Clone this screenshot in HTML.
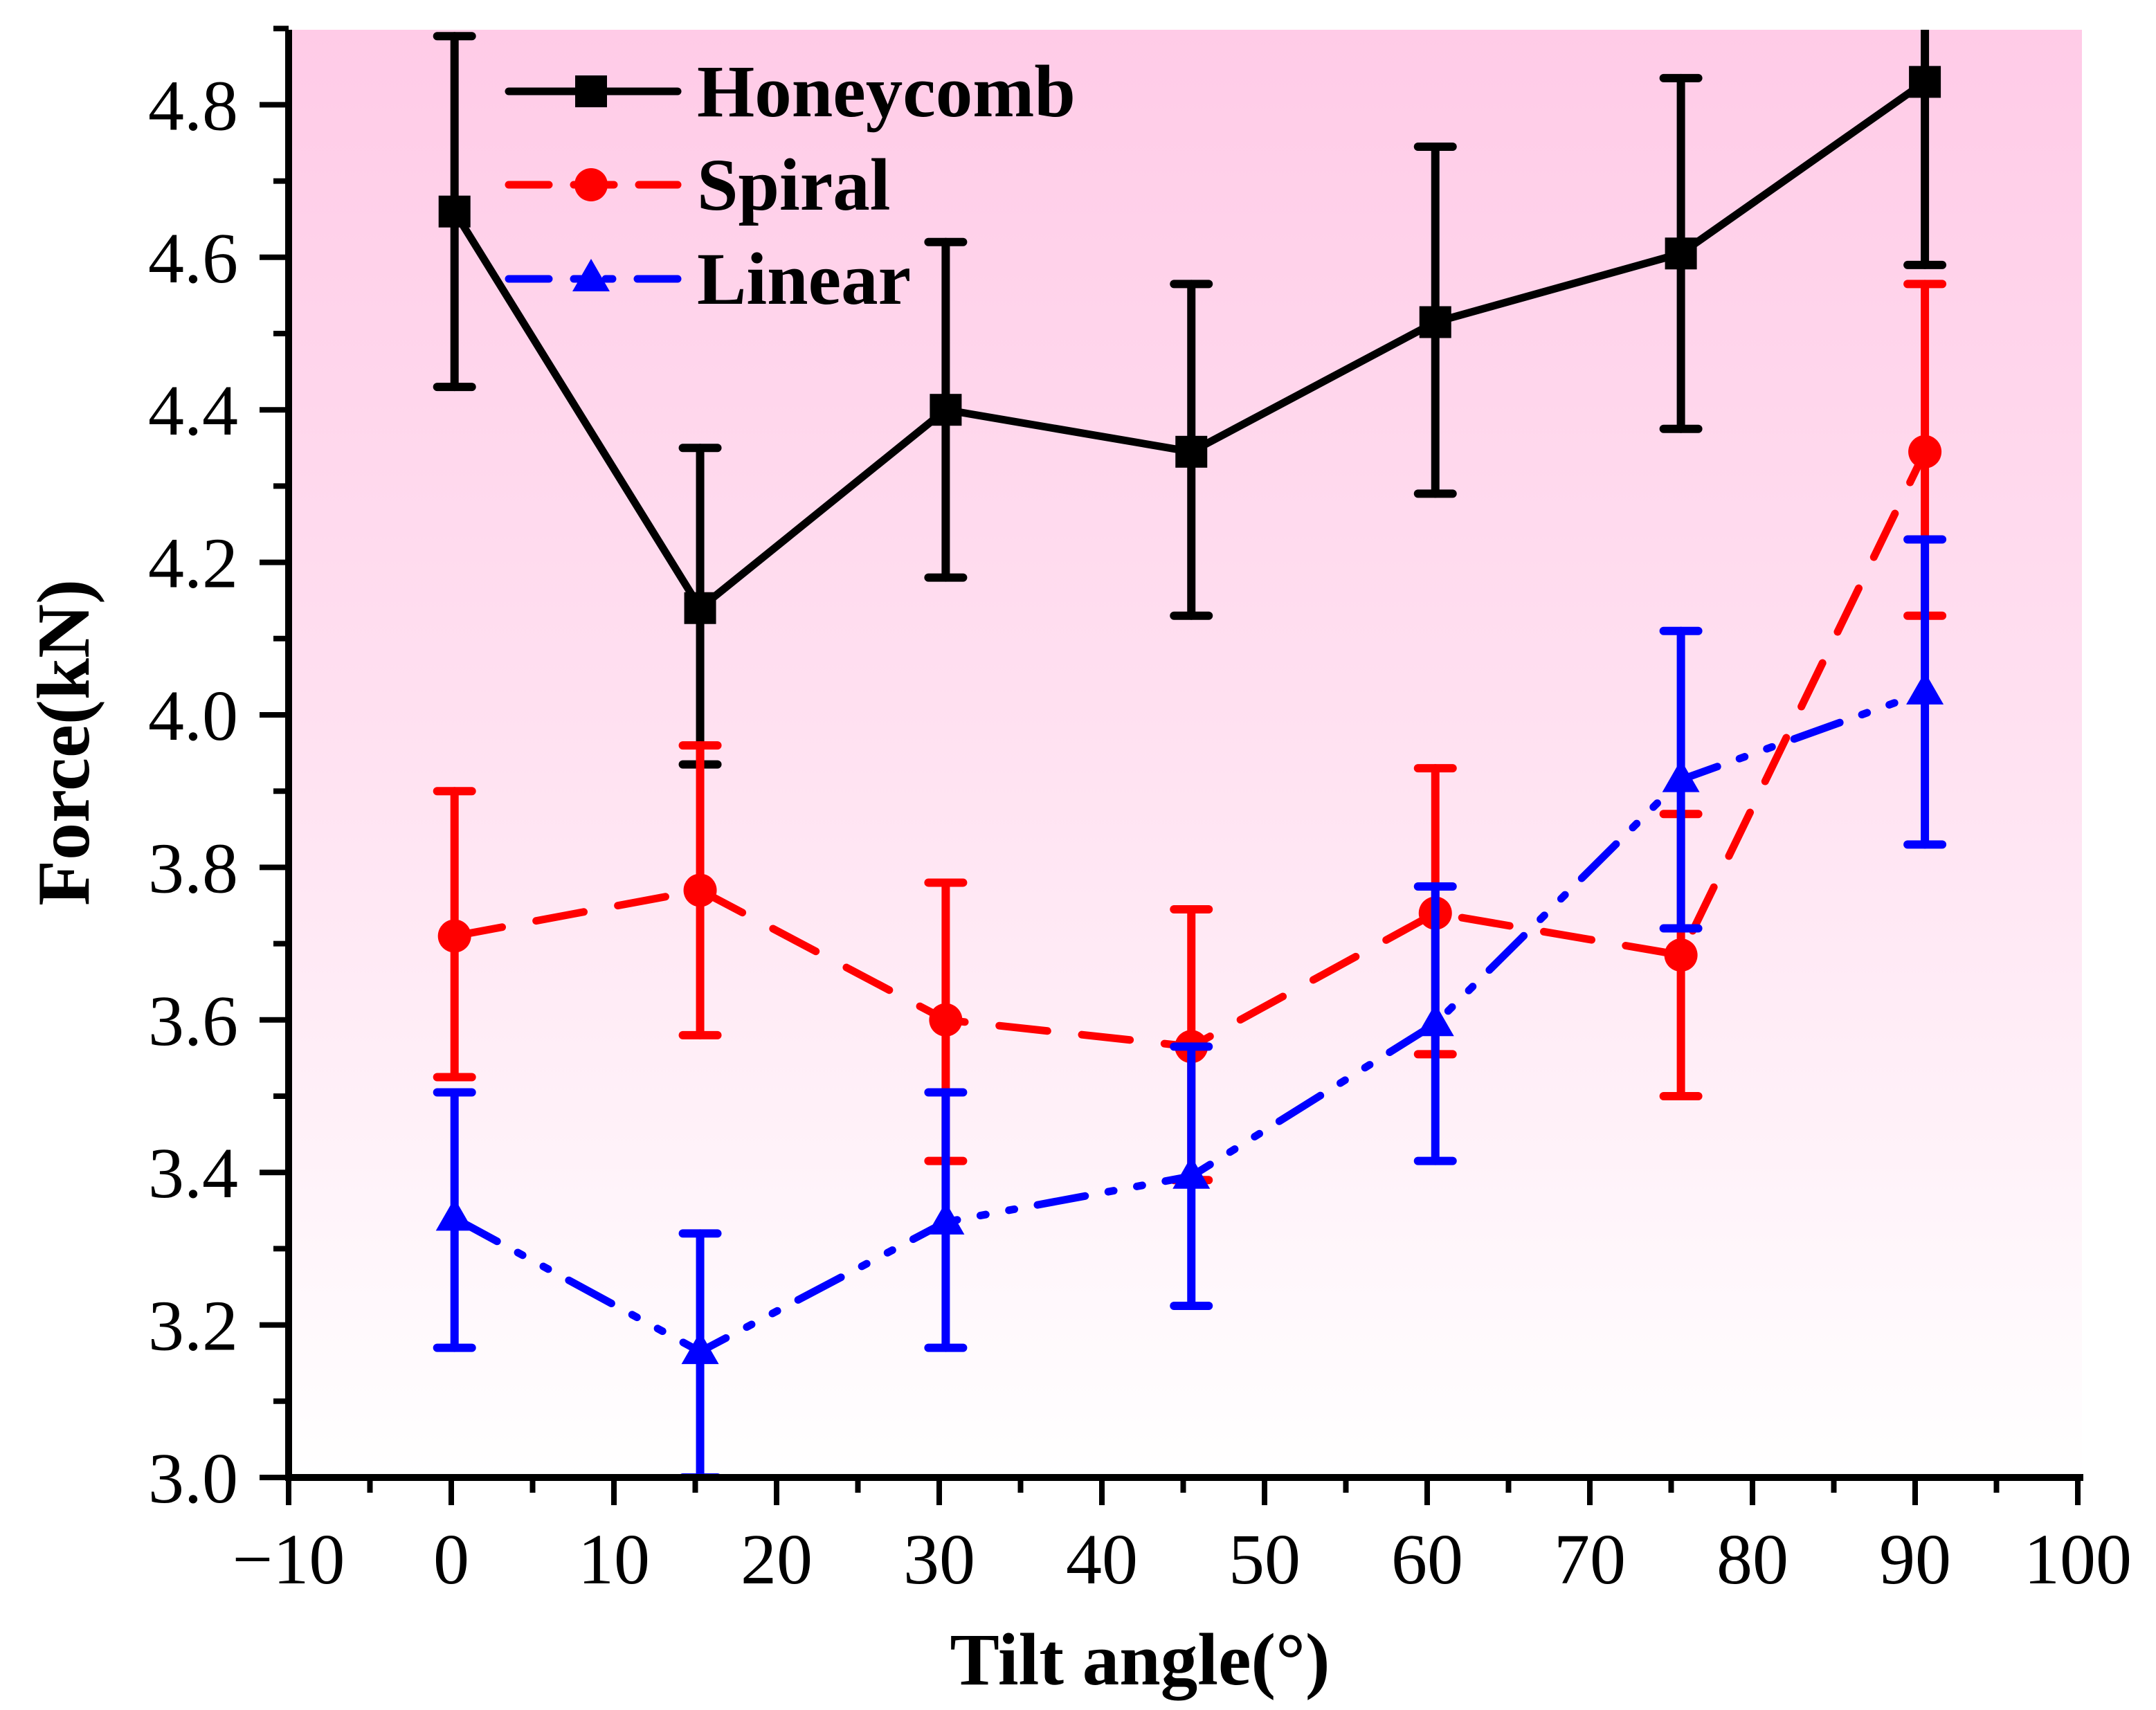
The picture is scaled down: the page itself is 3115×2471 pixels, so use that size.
<!DOCTYPE html>
<html><head><meta charset="utf-8"><style>
html,body{margin:0;padding:0;background:#fff}
svg{display:block}
text{font-family:"Liberation Serif",serif}
</style></head><body>
<svg id="chart" width="3115" height="2471" viewBox="0 0 3115 2471" xmlns="http://www.w3.org/2000/svg">
<defs>
<linearGradient id="bg" x1="0" y1="0" x2="0" y2="1">
<stop offset="0" stop-color="#ffcbe7"/><stop offset="0.45" stop-color="#ffdff0"/><stop offset="1" stop-color="#ffffff"/>
</linearGradient>
<clipPath id="clip"><rect x="417" y="43" width="2591" height="2093"/></clipPath>
</defs>
<rect x="417" y="43" width="2591" height="2093" fill="url(#bg)"/>
<g id="series" clip-path="url(#clip)"></g>
<g id="axes"></g>
<g id="legend"></g>
<text transform="translate(128,1073) rotate(-90)" text-anchor="middle" font-size="108" font-weight="bold">Force(kN)</text>
<text x="1647" y="2434" text-anchor="middle" font-size="107" font-weight="bold">Tilt angle(°)</text>
</svg>
<script>
const angles = [0.2, 15.3, 30.4, 45.5, 60.5, 75.6, 90.6];
const honeyMean = [4.66, 4.14, 4.40, 4.345, 4.515, 4.605, 4.83];
const honeyLow  = [4.43, 3.935, 4.18, 4.13, 4.29, 4.375, 4.59];
const honeyHigh = [4.89, 4.35, 4.62, 4.565, 4.745, 4.835, 5.07];
const spiralMean = [3.71, 3.77, 3.60, 3.565, 3.74, 3.685, 4.345];
const spiralLow  = [3.525, 3.58, 3.415, 3.39, 3.555, 3.50, 4.13];
const spiralHigh = [3.90, 3.96, 3.78, 3.745, 3.93, 3.87, 4.565];
const linearMean = [3.34, 3.165, 3.335, 3.395, 3.595, 3.915, 4.03];
const linearLow  = [3.17, 3.0, 3.17, 3.225, 3.415, 3.72, 3.83];
const linearHigh = [3.505, 3.32, 3.505, 3.565, 3.775, 4.11, 4.23];
const xTicks = [-10, 0, 10, 20, 30, 40, 50, 60, 70, 80, 90, 100];
const xTickLabels = ["\u221210", "0", "10", "20", "30", "40", "50", "60", "70", "80", "90", "100"];
const yTicks = [3.0, 3.2, 3.4, 3.6, 3.8, 4.0, 4.2, 4.4, 4.6, 4.8];
const yTickLabels = ["3.0", "3.2", "3.4", "3.6", "3.8", "4.0", "4.2", "4.4", "4.6", "4.8"];

const NS = "http://www.w3.org/2000/svg";
const X0 = 417, X1 = 3002, XMIN = -10, XMAX = 100;
const Y0 = 2135, YMIN = 3.0, YPX = 1102;
const xs = v => X0 + (v - XMIN) * (X1 - X0) / (XMAX - XMIN);
const ys = v => Y0 - (v - YMIN) * YPX;
function mk(tag, attrs, parent) {
  const e = document.createElementNS(NS, tag);
  for (const k in attrs) e.setAttribute(k, attrs[k]);
  parent.appendChild(e);
  return e;
}
const series = document.getElementById('series');
const axes = document.getElementById('axes');
const legend = document.getElementById('legend');

const defs = [
  {name:'honeycomb', color:'#000', mean:honeyMean, lo:honeyLow, hi:honeyHigh, dash:'', marker:'square'},
  {name:'spiral', color:'#ff0000', mean:spiralMean, lo:spiralLow, hi:spiralHigh, dash:'70 50', marker:'circle'},
  {name:'linear', color:'#0000ff', mean:linearMean, lo:linearLow, hi:linearHigh, dash:'70 34 8 34 8 34', marker:'triangle'}
];
function marker(type, cx, cy, color, parent) {
  let m;
  if (type === 'square') m = mk('rect', {x:cx-23, y:cy-23, width:46, height:46, fill:color}, parent);
  else if (type === 'circle') m = mk('ellipse', {cx:cx, cy:cy, rx:24, ry:24, fill:color}, parent);
  else m = mk('polygon', {points:`${cx},${cy-29} ${cx+27},${cy+18} ${cx-27},${cy+18}`, fill:color}, parent);
  return m;
}
defs.forEach(s => {
  const g = mk('g', {}, series);
  
  
  angles.forEach((a, i) => {
    const x = xs(a);
    const eb = mk('g', {stroke:s.color, 'stroke-width':12, 'stroke-linecap':'round', fill:'none'}, g);
    
    
    mk('line', {x1:x, y1:ys(s.lo[i]), x2:x, y2:ys(s.hi[i])}, eb);
    mk('line', {x1:x-25, y1:ys(s.lo[i]), x2:x+25, y2:ys(s.lo[i])}, eb);
    mk('line', {x1:x-25, y1:ys(s.hi[i]), x2:x+25, y2:ys(s.hi[i])}, eb);
  });
  const pts = angles.map((a, i) => xs(a) + ',' + ys(s.mean[i])).join(' ');
  const ln = mk('polyline', {points:pts, fill:'none', stroke:s.color, 'stroke-width':11, 'stroke-linecap':'round', 'stroke-linejoin':'round'}, g);
  if (s.dash) ln.setAttribute('stroke-dasharray', s.dash);
  
  
  angles.forEach((a, i) => {
    const m = marker(s.marker, xs(a), ys(s.mean[i]), s.color, g);
    
    
  });
});

const yAxis = mk('line', {x1:X0, y1:43, x2:X0, y2:Y0+5, stroke:'#000', 'stroke-width':10}, axes);


const xAxis = mk('line', {x1:X0-5, y1:Y0, x2:X1+8, y2:Y0, stroke:'#000', 'stroke-width':10}, axes);


xTicks.forEach((t, i) => {
  const x = xs(t);
  const tk = mk('line', {x1:x, y1:Y0, x2:x, y2:Y0+40, stroke:'#000', 'stroke-width':8}, axes);
  
  
  if (i < xTicks.length - 1) {
    const mx = xs(t + 5);
    const mt = mk('line', {x1:mx, y1:Y0, x2:mx, y2:Y0+22, stroke:'#000', 'stroke-width':8}, axes);
    
    
  }
  const lb = mk('text', {x:x, y:2288, 'text-anchor':'middle', 'font-size':104}, axes);
  lb.textContent = xTickLabels[i];
  
  
});
yTicks.forEach((t, i) => {
  const y = ys(t);
  const tk = mk('line', {x1:X0-42, y1:y, x2:X0, y2:y, stroke:'#000', 'stroke-width':8}, axes);
  
  
  const my = ys(t + 0.1);
  const mt = mk('line', {x1:X0-22, y1:my, x2:X0, y2:my, stroke:'#000', 'stroke-width':8}, axes);
  
  
  const lb = mk('text', {x:344, y:y+36, 'text-anchor':'end', 'font-size':104}, axes);
  lb.textContent = yTickLabels[i];
  
  
});
const legendLabels = ['Honeycomb', 'Spiral', 'Linear'];
const legendRows = [132, 267, 403];
const legendDash = ['', '58 36', '58 36 10 36 10 36'];
defs.forEach((s, i) => {
  const g = mk('g', {}, legend);
  
  
  const y = legendRows[i];
  const l = mk('line', {x1:735, y1:y, x2:979, y2:y, stroke:s.color, 'stroke-width':11, 'stroke-linecap':'round'}, g);
  if (legendDash[i]) l.setAttribute('stroke-dasharray', legendDash[i]);
  marker(s.marker, 854, y, s.color, g);
  const t = mk('text', {x:1007, y:y+36, 'font-size':107, 'font-weight':'bold'}, g);
  t.textContent = legendLabels[i];
});
</script>
</body></html>
